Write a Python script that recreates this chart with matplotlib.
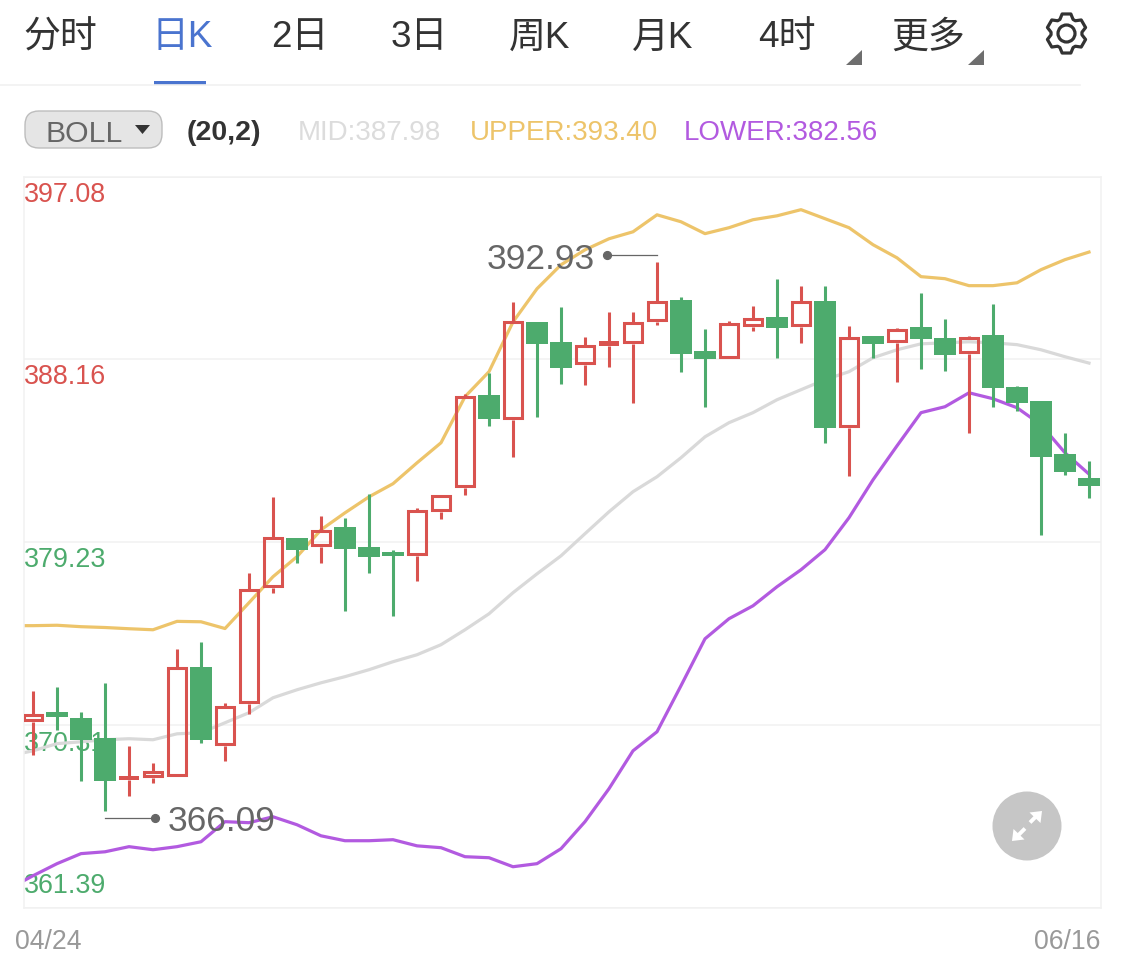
import numpy as np
import matplotlib
matplotlib.use("Agg")
import matplotlib.pyplot as plt
from matplotlib.patches import Rectangle, Circle, Polygon, FancyBboxPatch
from matplotlib.transforms import offset_copy, blended_transform_factory

LATIN = ['Liberation Sans', 'Noto Sans CJK SC']
plt.rcParams['font.family'] = LATIN

# ---- data ----
tabs = ['分时', '日K', '2日', '3日', '周K', '月K', '4时', '更多']
y_levels = [397.08, 388.16, 379.23, 370.31, 361.39]
date_labels = ['04/24', '06/16']

opens = [370.47, 370.95, 370.66, 369.69, 367.61, 367.73, 367.78, 373.16, 369.29, 371.34,
         377.02, 379.45, 379.02, 380.00, 379.02, 378.77, 378.58, 380.72, 381.89, 386.44,
         385.21, 389.99, 389.02, 387.90, 388.80, 388.92, 389.99, 391.07, 388.58, 388.19,
         389.75, 390.24, 389.75, 391.02, 384.82, 389.32, 388.97, 389.75, 389.22, 388.44,
         389.36, 386.82, 386.14, 383.55, 382.38]
closes = [370.86, 370.71, 369.59, 367.58, 367.80, 368.07, 373.16, 369.59, 371.25, 376.97,
          379.50, 378.87, 379.85, 378.92, 378.53, 378.58, 380.82, 381.55, 386.39, 385.27,
          390.05, 388.92, 387.75, 388.88, 389.05, 389.99, 391.02, 388.44, 388.19, 389.95,
          390.19, 389.71, 391.02, 384.82, 389.27, 388.92, 389.66, 389.17, 388.39, 389.27,
          386.78, 386.04, 383.41, 382.68, 381.99]
highs = [371.99, 372.18, 370.95, 372.38, 369.29, 368.46, 374.04, 374.38, 371.39, 377.75,
         381.46, 379.45, 380.53, 380.43, 381.60, 378.87, 380.92, 381.55, 386.48, 387.51,
         390.97, 389.99, 390.73, 389.27, 390.49, 390.49, 392.93, 391.22, 389.66, 390.05,
         390.78, 392.10, 391.76, 391.76, 389.80, 389.32, 389.71, 391.41, 390.14, 389.32,
         390.88, 386.87, 386.14, 384.58, 383.21]
lows = [368.85, 370.07, 367.58, 366.09, 366.85, 367.49, 367.78, 369.44, 368.56, 370.86,
        376.77, 378.23, 378.23, 375.89, 377.75, 375.65, 377.36, 380.38, 381.55, 384.92,
        383.41, 385.36, 386.97, 386.92, 387.80, 386.04, 389.85, 387.56, 385.85, 388.19,
        389.56, 388.24, 388.97, 384.09, 382.48, 388.24, 387.07, 387.70, 387.61, 384.58,
        385.85, 385.65, 379.60, 382.53, 381.41]

# first value of each band belongs to the session just left of the window
upper = [375.16, 375.16, 375.18, 375.11, 375.07, 375.01, 374.96, 375.37, 375.35, 375.02, 376.28,
         377.55, 378.53, 379.84, 380.67, 381.45, 382.09, 383.11, 384.09, 386.34, 387.56,
         389.99, 391.61, 392.78, 393.51, 394.05, 394.39, 395.22, 394.88, 394.30, 394.59,
         394.98, 395.17, 395.47, 395.03, 394.59, 393.76, 393.12, 392.20, 392.10, 391.76,
         391.76, 391.90, 392.54, 393.03, 393.40]
mid = [368.81, 369.05, 369.40, 369.49, 369.59, 369.64, 369.59, 369.88, 369.93, 370.42, 370.91,
       371.64, 372.03, 372.37, 372.67, 373.01, 373.40, 373.74, 374.23, 374.96, 375.74,
       376.77, 377.69, 378.57, 379.65, 380.72, 381.70, 382.43, 383.36, 384.38, 385.07,
       385.56, 386.19, 386.68, 387.17, 387.56, 388.24, 388.63, 388.92, 388.97, 389.02,
       388.97, 388.88, 388.63, 388.29, 387.98]
lower = [362.32, 362.95, 363.54, 364.03, 364.12, 364.37, 364.22, 364.37, 364.61, 365.59, 365.54,
         365.83, 365.44, 364.90, 364.66, 364.66, 364.71, 364.41, 364.32, 363.88, 363.83,
         363.39, 363.54, 364.27, 365.59, 367.20, 369.05, 369.98, 372.23, 374.52, 375.50,
         376.13, 377.06, 377.89, 378.87, 380.43, 382.28, 383.94, 385.56, 385.85, 386.53,
         386.24, 385.80, 384.97, 383.60, 382.56]

# ---- style ----
RED = '#d9534f'
GREEN = '#4dab6d'
GRID = '#f1f1f1'
C_UP, C_MID, C_LOW = '#edc46a', '#d9d9d9', '#b25ae0'

W, H = 1125, 978
TOP, BOT = 177.7, 908.7
fig = plt.figure(figsize=(W / 100, H / 100), dpi=100, facecolor='white')
ax = fig.add_axes([24 / W, 1 - BOT / H, (1101 - 24) / W, (BOT - TOP) / H])
ax.set_xlim(-0.375, 44.5)
ax.set_ylim(361.39, 397.08)
ax.set_xticks([])
ax.set_yticks(y_levels)
ax.tick_params(length=0, labelleft=False)
ax.grid(True, axis='y', color=GRID, lw=1.1, zorder=0.5)
ax.set_axisbelow(True)
for s in ax.spines.values():
    s.set_color(GRID)
    s.set_linewidth(1.1)

# y labels, placed inside the plot
offsets = [-17, -17, -17, -18, 23]
colors = [RED, RED, GREEN, GREEN, GREEN]
trans = blended_transform_factory(ax.transAxes, ax.transData)
for lv, dy, c in zip(y_levels, offsets, colors):
    ax.annotate(f'{lv:.2f}', xy=(0, lv), xycoords=trans, xytext=(0, dy), textcoords='offset pixels',
                ha='left', va='center', fontsize=19.4, color=c, zorder=1, annotation_clip=False)

# bands
bx = np.arange(-1, 45)
ax.plot(bx, upper, color=C_UP, lw=2.3, zorder=2, solid_joinstyle='round')
ax.plot(bx, mid, color=C_MID, lw=2.3, zorder=2, solid_joinstyle='round')
ax.plot(bx, lower, color=C_LOW, lw=2.3, zorder=2, solid_joinstyle='round')

# candles
inset = 0.073
for i, (o, c, h, l) in enumerate(zip(opens, closes, highs, lows)):
    top, bot = max(o, c), min(o, c)
    if c >= o:
        ax.plot([i, i], [top, h], color=RED, lw=2.2, zorder=3, solid_capstyle='butt')
        ax.plot([i, i], [l, bot], color=RED, lw=2.2, zorder=3, solid_capstyle='butt')
        if top - bot < 0.28:
            ax.add_patch(Rectangle((i - 0.43, bot), 0.86, top - bot, facecolor=RED,
                                   edgecolor='none', zorder=3))
        else:
            hgt = top - bot - 2 * inset
            ax.add_patch(Rectangle((i - 0.36, bot + inset), 0.72, hgt, fill=False,
                                   edgecolor=RED, lw=2.2, zorder=3, joinstyle='miter'))
    else:
        ax.plot([i, i], [l, h], color=GREEN, lw=2.2, zorder=3, solid_capstyle='butt')
        ax.add_patch(Rectangle((i - 0.44, bot), 0.88, top - bot, facecolor=GREEN,
                               edgecolor='none', zorder=3))

# high / low callouts
hi = int(np.argmax(highs))
lo = int(np.argmin(lows))
hi_tr = offset_copy(ax.transData, fig=fig, x=0, y=7, units='dots')
lo_tr = offset_copy(ax.transData, fig=fig, x=0, y=-7, units='dots')
ax.plot([hi, hi - 2.1], [highs[hi]] * 2, color='#666666', lw=0.9, transform=hi_tr, zorder=4)
ax.plot([hi - 2.1], [highs[hi]], 'o', color='#666666', ms=5.6, transform=hi_tr, zorder=4)
ax.plot([lo, lo + 2.1], [lows[lo]] * 2, color='#666666', lw=0.9, transform=lo_tr, zorder=4)
ax.plot([lo + 2.1], [lows[lo]], 'o', color='#666666', ms=5.6, transform=lo_tr, zorder=4)
ax.annotate(f'{highs[hi]:.2f}', xy=(hi - 2.1, highs[hi]), xytext=(-12, 3), textcoords='offset pixels',
            ha='right', va='center', fontsize=25.5, color='#666666', zorder=5)
ax.annotate(f'{lows[lo]:.2f}', xy=(lo + 2.1, lows[lo]), xytext=(12, -9), textcoords='offset pixels',
            ha='left', va='center', fontsize=25.5, color='#666666', zorder=5)

# ---- page furniture in pixel coordinates ----
ui = fig.add_axes([0, 0, 1, 1], facecolor='none', zorder=10)
ui.set_xlim(0, W)
ui.set_ylim(H, 0)
ui.axis('off')

tab_x = [60, 182, 300, 419, 540, 663, 787, 928]
for j, (t, x) in enumerate(zip(tabs, tab_x)):
    ui.text(x, 38, t, ha='center', va='center', fontsize=26.6, family=LATIN,
            color='#4a74cf' if j == 1 else '#333333')
ui.plot([0, 1080], [86, 86], color='#f1f1f1', lw=1.2)
ui.add_patch(Rectangle((154, 82), 52, 4, color='#4a74cf', lw=0))
for x0 in (846, 968):
    ui.add_patch(Polygon([[x0, 66], [x0 + 15.5, 66], [x0 + 15.5, 51]], color='#6e6e6e', lw=0))

# gear
ang, rad = [], []
for k in range(6):
    a0 = np.pi / 2 + k * np.pi / 3
    for da, r in ((-0.44, 15.5), (-0.22, 20), (0.22, 20), (0.44, 15.5)):
        ang.append(a0 + da)
        rad.append(r)
ang, rad = np.array(ang), np.array(rad)
ui.add_patch(Polygon(np.c_[1066.5 + rad * np.cos(ang), 34.5 + rad * np.sin(ang)], closed=True,
                     fill=False, edgecolor='#333333', lw=2.3, joinstyle='round'))
ui.add_patch(Circle((1066.5, 34.5), 8.5, fill=False, edgecolor='#333333', lw=2.3))

# BOLL selector
ui.add_patch(FancyBboxPatch((25, 112), 137, 37, boxstyle='round,pad=0,rounding_size=14',
                            fc='#e5e5e5', ec='#bdbdbd', lw=1))
ui.text(84.5, 133.5, 'BOLL', ha='center', va='center', fontsize=21.7, color='#666666')
ui.add_patch(Polygon([[135, 126], [150, 126], [142.5, 135]], color='#333333', lw=0))
ui.text(187, 133.5, '(20,2)', ha='left', va='center', fontsize=20.5, color='#333333', fontweight='bold')
ui.text(298, 133.5, f'MID:{mid[-1]:.2f}', ha='left', va='center', fontsize=20, color='#dcdcdc')
ui.text(470, 133.5, f'UPPER:{upper[-1]:.2f}', ha='left', va='center', fontsize=20, color=C_UP)
ui.text(684, 133.5, f'LOWER:{lower[-1]:.2f}', ha='left', va='center', fontsize=20, color=C_LOW)

ui.text(15, 942, date_labels[0], ha='left', va='center', fontsize=19.2, color='#999999')
ui.text(1100, 942, date_labels[1], ha='right', va='center', fontsize=19.2, color='#999999')

# expand button
ui.add_patch(Circle((1027, 827), 34.5, color='#c6c6c6', lw=0))
for (x1, y1, x2, y2) in ((1025, 829.5, 1017, 837.5), (1030, 823.5, 1037, 816.5)):
    ui.plot([x1, x2], [y1, y2], color='white', lw=2.8, solid_capstyle='butt')
ui.add_patch(Polygon([[1012, 842], [1013.5, 830], [1024.5, 840.5]], color='white', lw=0))
ui.add_patch(Polygon([[1042, 812], [1040.5, 824], [1029.5, 813.5]], color='white', lw=0))

fig.savefig('out.png', dpi=100, facecolor='white')
